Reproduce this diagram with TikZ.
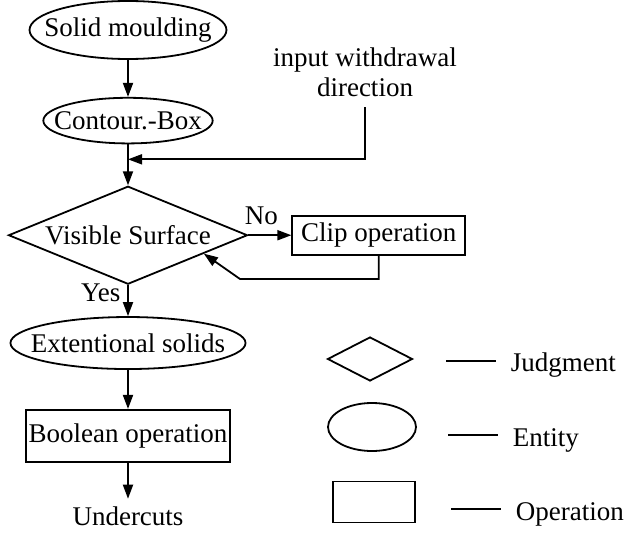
\documentclass[tikz,border=0pt]{standalone}
\usepackage{fontspec}
\setmainfont{Liberation Serif}
\usetikzlibrary{shapes.geometric, arrows.meta, positioning, calc}

\begin{document}
\begin{tikzpicture}[
    x=1pt, y=1pt,
    font=\fontsize{13.5}{15}\selectfont,
    line width=0.9pt,
    >={Triangle[length=7pt, width=5pt]},
    entity/.style={draw, ellipse, inner xsep=-7pt, inner ysep=3.5pt},
    judge/.style={draw, diamond, shape aspect=2.4, inner sep=0pt},
    operation/.style={draw, rectangle, inner sep=1pt},
    keytext/.style={anchor=base west, inner sep=0pt}
]
    \useasboundingbox (0,0) rectangle (312.5,-267.5);

    % Main flow
    \node[entity, minimum height=29pt] (solid) at (64,-15) {Solid moulding};
    \node[entity, below=18.5pt of solid] (contour) {Contour.-Box};
    \node[judge, minimum width=119.5pt, minimum height=49pt, below=20.5pt of contour] (visible) {Visible Surface};
    \node[entity, minimum height=26pt, below=15.5pt of visible] (extent) {Extentional solids};
    \node[operation, minimum width=102pt, minimum height=26pt, below=19.5pt of extent] (boolean) {Boolean operation};
    \node[below=18pt of boolean] (undercuts) {Undercuts};

    % Side branch
    \node[operation, minimum width=86.5pt, minimum height=19.5pt, right=21.5pt of visible] (clip) {Clip operation};
    \node[align=center, inner ysep=5pt] (input) at (182.5,-36) {input withdrawal\\direction};
    \coordinate[below=7.5pt of contour] (join);
    \coordinate (bend) at (120,-139.5);

    % Arrows
    \draw[->] (solid) -- (contour);
    \draw[->] (contour) -- (visible);
    \draw[->] (input) |- (join);
    \draw[->] (visible) -- node[above, pos=0.3, inner sep=5pt] {No} (clip);
    \draw[->] (clip.south) |- (bend) -- ($(visible.east)!0.37!(visible.south)$);
    \draw[->] (visible) -- node[left, pos=0.25] {Yes} (extent);
    \draw[->] (extent) -- (boolean);
    \draw[->] (boolean) -- (undercuts);

    % Legend
    \node[judge, minimum width=42.5pt, minimum height=22pt] (keyjudge) at (185,-179.5) {};
    \node[entity, inner sep=0pt, minimum width=44pt, minimum height=24pt] (keyentity) at (186,-213.5) {};
    \node[operation, minimum width=41pt, minimum height=20.5pt] (keyop) at (187,-251) {};
    \node[keytext] (judgetxt) at (255,-185.5) {Judgment};
    \node[keytext] (entitytxt) at (256,-223) {Entity};
    \node[keytext] (optxt) at (257.5,-260) {Operation};
    \draw ([shift={(-32pt,5pt)}]judgetxt.base west) -- ([shift={(-7pt,5pt)}]judgetxt.base west);
    \draw ([shift={(-32pt,5.5pt)}]entitytxt.base west) -- ([shift={(-7pt,5.5pt)}]entitytxt.base west);
    \draw ([shift={(-32pt,5.5pt)}]optxt.base west) -- ([shift={(-7pt,5.5pt)}]optxt.base west);
\end{tikzpicture}
\end{document}
